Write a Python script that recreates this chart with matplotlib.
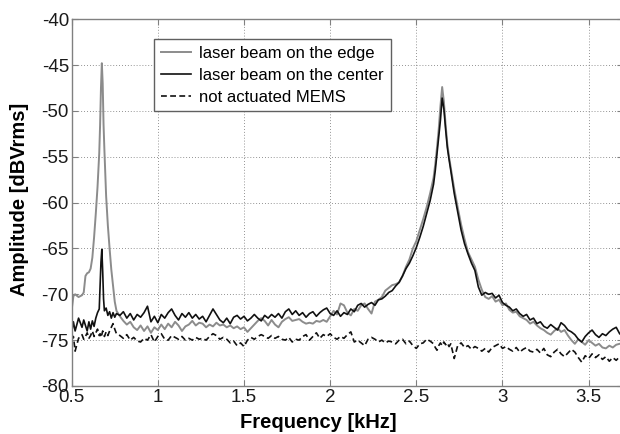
import matplotlib
matplotlib.use("Agg")
import matplotlib.pyplot as plt

plt.rcParams['font.family'] = ['Liberation Sans', 'DejaVu Sans']
plt.rcParams['axes.unicode_minus'] = False

# frequency points [kHz]
freq = [
    0.50, 0.51, 0.52, 0.54, 0.56, 0.57, 0.58, 0.59, 0.60, 0.61,
    0.62, 0.63, 0.64, 0.65, 0.66, 0.665, 0.67, 0.675, 0.68, 0.685,
    0.69, 0.70, 0.71, 0.72, 0.73, 0.74, 0.75, 0.76,
    0.78, 0.80, 0.82, 0.84, 0.86, 0.88, 0.90, 0.92, 0.94, 0.96,
    0.98, 1.00, 1.02, 1.04, 1.06, 1.08, 1.10, 1.12, 1.14, 1.16,
    1.18, 1.20, 1.22, 1.24, 1.26, 1.28, 1.30, 1.32, 1.34, 1.36,
    1.38, 1.40, 1.42, 1.44, 1.46, 1.48, 1.50, 1.52, 1.54, 1.56,
    1.58, 1.60, 1.62, 1.64, 1.66, 1.68, 1.70, 1.72, 1.74, 1.76,
    1.78, 1.80, 1.82, 1.84, 1.86, 1.88, 1.90, 1.92, 1.94, 1.96,
    1.98, 2.00, 2.02, 2.04, 2.06, 2.08, 2.10, 2.12, 2.14, 2.16,
    2.18, 2.20, 2.22, 2.24, 2.26, 2.28, 2.30, 2.32, 2.34, 2.36,
    2.38, 2.40, 2.42, 2.44, 2.46, 2.48, 2.50, 2.52, 2.54, 2.56,
    2.58, 2.60,
    2.61, 2.62, 2.63, 2.64, 2.65, 2.66, 2.67, 2.68, 2.69, 2.70,
    2.72, 2.74, 2.76, 2.78, 2.80, 2.82, 2.84, 2.86, 2.88, 2.90,
    2.92, 2.94, 2.96, 2.98, 3.00, 3.02, 3.04, 3.06, 3.08, 3.10,
    3.12, 3.14, 3.16, 3.18, 3.20, 3.22, 3.24, 3.26, 3.28, 3.30,
    3.32, 3.34, 3.36, 3.38, 3.40, 3.42, 3.44, 3.46, 3.48, 3.50,
    3.52, 3.54, 3.56, 3.58, 3.60, 3.62, 3.64, 3.66, 3.68,
]

# laser beam on the edge [dBVrms]
edge = [
    -71.7, -70.2, -70.0, -70.3, -70.1, -69.8, -68.0, -67.7, -67.6, -67.2,
    -66.0, -63.8, -61.2, -58.3, -54.6, -51.5, -47.5, -44.8, -47.0, -51.5,
    -54.3, -59.3, -62.5, -65.0, -67.3, -69.0, -70.8, -71.8,
    -72.4, -72.9, -73.3, -73.0, -73.6, -73.9, -73.4, -74.0, -73.5, -74.2,
    -73.6, -73.9, -73.3, -73.8, -73.2, -73.6, -73.0, -73.4, -74.0, -73.5,
    -73.3, -72.9, -73.4, -73.1, -73.2, -73.6, -73.3, -73.5, -73.1, -73.4,
    -73.3, -73.6, -73.4, -73.7, -73.5, -73.8, -73.6, -74.1, -73.7, -73.3,
    -72.9, -72.6, -72.9, -73.4, -72.8, -73.3, -73.6, -73.0, -72.7, -72.5,
    -72.9, -72.8, -72.7, -73.0, -73.2, -73.1, -73.2, -72.9, -73.0, -72.8,
    -73.0, -72.4, -71.8, -72.2, -71.0, -71.2, -72.0, -72.3, -71.6, -71.8,
    -71.2, -71.0, -71.6, -72.1, -70.8, -70.6, -70.3, -69.6, -69.3, -69.0,
    -68.9, -68.7, -68.0, -67.0, -66.2, -65.0, -64.2, -63.0, -61.8, -60.5,
    -59.0, -57.3,
    -55.8, -54.0, -52.0, -49.5, -47.4, -49.0, -51.5, -53.6, -55.0, -56.2,
    -58.5, -60.5, -62.4, -64.0, -65.4, -66.2, -67.0, -68.4, -69.5, -70.3,
    -70.5, -70.2, -70.8, -70.6, -71.2, -71.0, -71.7, -72.0, -71.9, -72.4,
    -72.6, -72.8, -73.2, -73.0, -73.4, -73.7, -73.9, -74.2, -74.4, -74.0,
    -73.7, -74.1, -73.9, -74.5, -75.0, -75.4, -74.9, -75.2, -75.5, -75.0,
    -75.3, -75.6, -75.4, -75.8, -75.9, -75.6, -75.8, -75.5, -75.4,
]

# laser beam on the center [dBVrms]
center = [
    -74.2, -73.0, -74.0, -72.6, -73.6, -72.8, -73.4, -74.0, -73.0, -73.8,
    -72.9, -73.5, -72.6, -72.0, -71.6, -69.0, -66.5, -65.1, -67.5, -70.5,
    -71.8, -71.5, -72.3, -71.9, -72.6, -72.0, -72.5, -72.1,
    -72.3, -71.9, -72.6, -72.1, -72.8, -72.2, -72.5, -72.0, -71.3, -73.0,
    -72.4, -73.1, -72.2, -72.6, -72.0, -71.6, -72.3, -72.8, -72.1, -72.5,
    -72.0, -72.6, -72.2, -72.7, -72.4, -73.0, -72.3, -71.6, -72.2, -72.8,
    -73.1, -72.6, -73.2, -72.5, -72.3, -72.7, -72.4, -72.9, -72.6, -72.2,
    -72.6, -72.9, -72.3, -72.6, -72.2, -72.5, -72.1, -72.6, -71.9, -71.6,
    -72.2, -71.8, -72.3, -72.0, -72.5, -72.1, -71.9, -72.4, -72.0, -71.7,
    -71.5, -72.1, -72.3, -71.8, -72.4, -72.0, -72.2, -71.6, -71.9, -71.2,
    -71.0, -71.4, -71.1, -70.9, -71.2, -70.6, -70.5, -70.2, -69.8, -69.6,
    -69.1, -68.7, -68.0, -67.2, -66.6, -65.8, -64.9, -63.8, -62.6, -61.2,
    -59.8, -58.0,
    -56.5, -54.7, -53.0, -51.0, -48.6, -49.8, -52.0, -54.0, -55.3, -56.5,
    -59.0, -61.0, -63.0, -64.5, -65.6, -66.6, -67.4, -69.2, -70.1, -69.8,
    -70.0, -69.9, -70.4, -70.1, -70.9, -71.2, -71.4, -71.8, -71.6, -72.1,
    -72.4, -72.2, -72.8, -72.6, -73.2, -73.0, -73.5, -73.7, -73.3, -73.6,
    -73.9, -73.1, -73.4, -73.9, -74.1, -74.4, -74.9, -75.2, -74.6, -74.2,
    -73.9, -74.4, -74.7, -74.3, -74.5, -74.1, -73.8, -73.6, -74.3,
]

# not actuated MEMS [dBVrms]
idle = [
    -75.0, -74.6, -76.2, -74.8, -74.4, -74.9, -74.6, -74.2, -74.8, -74.5,
    -74.0, -74.6, -74.2, -73.8, -74.5, -74.3, -74.7, -74.4, -74.0, -74.3,
    -74.6, -74.1, -74.5, -74.0, -73.6, -73.2, -73.8, -74.3,
    -74.5, -74.8, -74.4, -75.0, -74.7, -75.1, -75.2, -74.8, -75.0, -74.4,
    -75.2, -74.6, -74.3, -74.9, -75.0, -74.5, -74.7, -74.9, -74.6, -75.0,
    -74.8, -75.0, -74.7, -74.9, -74.8, -75.0, -74.6, -74.3, -74.5, -74.9,
    -74.7, -74.9, -75.3, -75.1, -75.6, -75.3, -75.7, -75.0, -74.7, -74.9,
    -74.6, -74.4, -74.6, -74.8, -74.5, -74.8, -74.6, -74.9, -75.0, -74.7,
    -75.2, -74.9, -75.0, -74.6, -74.4, -75.0, -74.6, -74.2, -74.8, -74.4,
    -74.6, -74.3, -74.7, -74.9, -74.6, -74.8, -74.4, -74.1, -75.2, -75.0,
    -75.3, -75.6, -74.9, -74.7, -74.9, -75.2, -75.0, -75.3, -75.1, -75.2,
    -75.4, -75.0, -74.9, -75.4, -75.1, -75.6, -75.9, -75.4, -75.3, -74.9,
    -75.1, -75.4,
    -75.8, -76.1, -75.6, -75.3, -75.6, -75.2, -75.5, -75.3, -75.7, -75.4,
    -77.0, -75.6, -75.3, -75.8, -75.6, -76.0, -75.7, -75.9, -76.2, -75.9,
    -76.3, -75.8, -75.6, -75.4, -75.9, -75.7, -76.0, -76.2, -75.8, -76.3,
    -76.0, -75.8, -76.2, -76.3, -76.0, -76.4, -75.9, -76.6, -76.8, -76.3,
    -76.0, -76.5, -76.8, -76.4, -76.0, -76.3, -76.9, -77.4, -76.7, -77.0,
    -76.5, -76.9, -76.6, -77.1, -76.8, -77.3, -76.9, -77.2, -76.8,
]

xticks = [0.5, 1, 1.5, 2, 2.5, 3, 3.5]
xticklabels = ['0.5', '1', '1.5', '2', '2.5', '3', '3.5']
yticks = [-80, -75, -70, -65, -60, -55, -50, -45, -40]

fig = plt.figure(figsize=(6.2, 4.34), dpi=100)
ax = fig.add_axes([0.1156, 0.1106, 0.8894, 0.8452])

ax.plot(freq, edge, color='#8c8c8c', lw=1.4, label='laser beam on the edge')
ax.plot(freq, center, color='#111111', lw=1.2, label='laser beam on the center')
ax.plot(freq, idle, color='#111111', lw=1.2, ls=(0, (3.5, 2)), label='not actuated MEMS')

ax.set_xlim(0.5, 3.7)
ax.set_ylim(-80, -40)
ax.set_xticks(xticks)
ax.set_xticklabels(xticklabels)
ax.set_yticks(yticks)
ax.tick_params(direction='in', length=4, color='#808080', labelsize=13.5,
               labelcolor='#1a1a1a', top=True, right=True, pad=2)
for s in ax.spines.values():
    s.set_color('#808080')
    s.set_linewidth(1.0)
ax.grid(True, color='#707070', ls=(0, (1, 2.5)), lw=0.6)

ax.set_xlabel('Frequency [kHz]', fontsize=14.5, fontweight='bold')
ax.xaxis.set_label_coords(0.447, -0.074)
ax.set_ylabel('Amplitude [dBVrms]', fontsize=14.5, fontweight='bold')
ax.yaxis.set_label_coords(-0.077, 0.51)

leg = ax.legend(loc='upper left', bbox_to_anchor=(0.150, 0.946), borderaxespad=0,
                fontsize=12, frameon=True, fancybox=False, framealpha=1,
                handlelength=1.8, handletextpad=0.5, labelspacing=0.42,
                borderpad=0.4)
leg.get_frame().set_edgecolor('#606060')
leg.get_frame().set_linewidth(1.0)

fig.savefig('out.png', dpi=100)
